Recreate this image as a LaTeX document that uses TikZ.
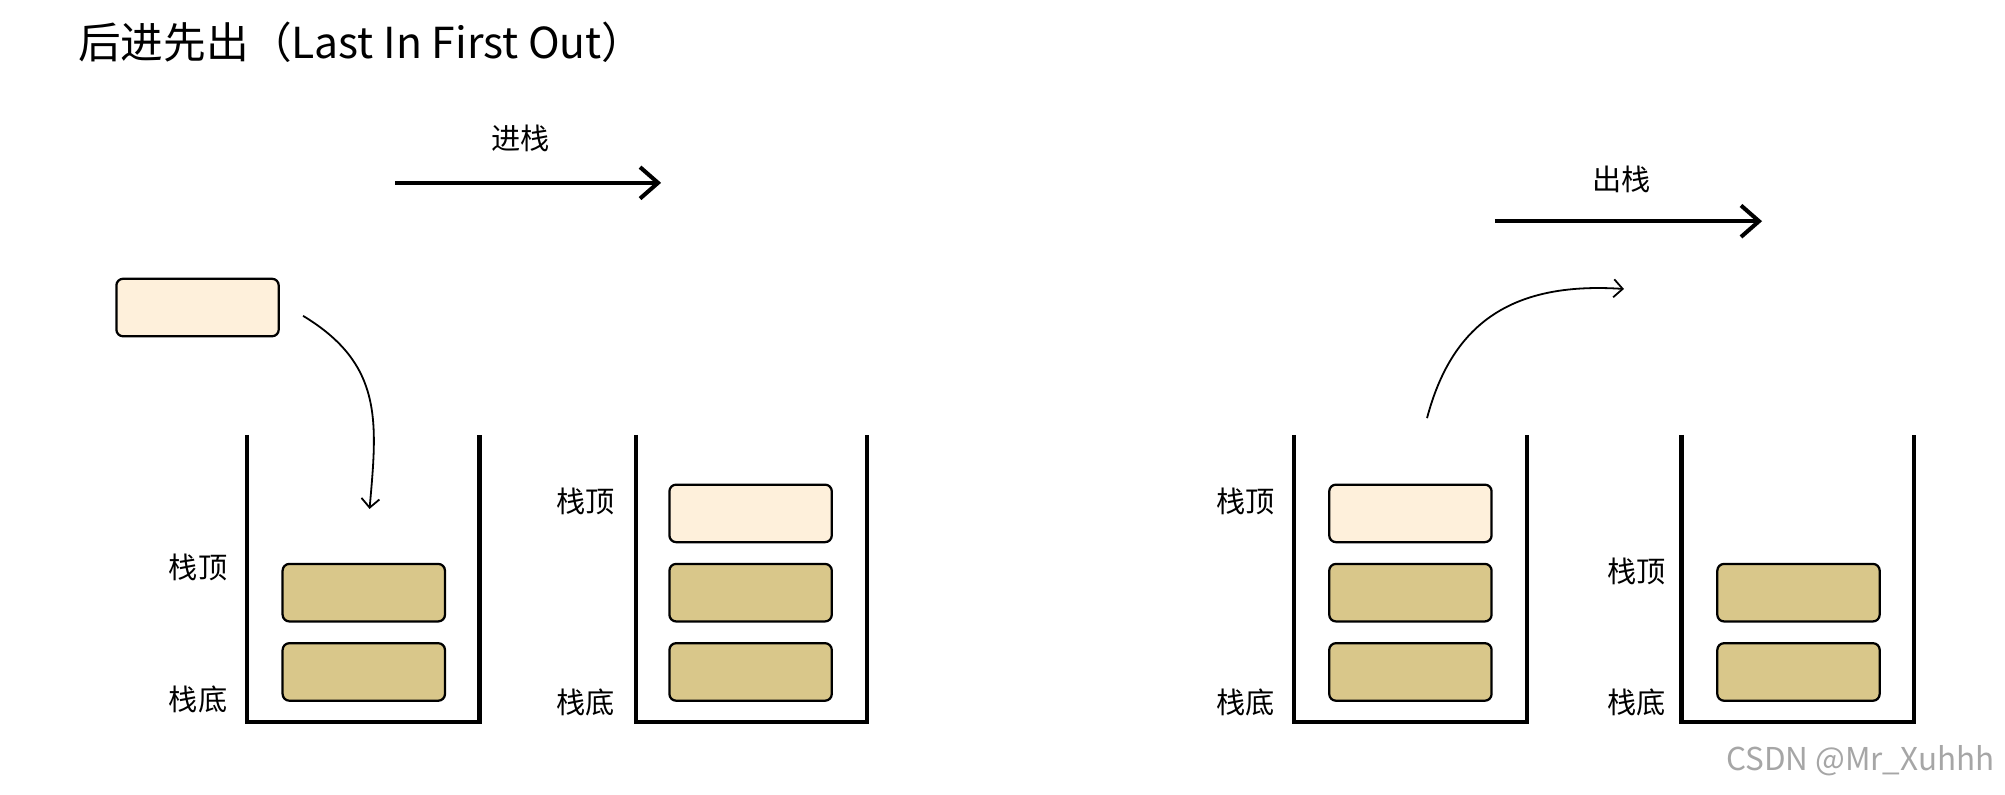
\documentclass[tikz,border=0pt]{standalone}
\usepackage{fontspec}
\setmainfont{Noto Sans CJK SC}
\usetikzlibrary{arrows.meta}
\tikzset{
  lightbox/.style={draw=black,line width=1pt,rounded corners=3pt,fill=yellow!8!orange!12,minimum width=2.54cm,minimum height=0.9cm},
  darkbox/.style={draw=black,line width=1pt,rounded corners=3pt,fill={rgb,255:red,217;green,199;blue,138},minimum width=2.54cm,minimum height=0.9cm},
  lab/.style={font=\fontsize{13pt}{15pt}\selectfont},
  cup/.style={line width=1.8pt},
}
\begin{document}
\begin{tikzpicture}[x=0.02cm,y=-0.02cm]
\useasboundingbox (0,0) rectangle (1568,621);
% title
\node[anchor=west,font=\fontsize{19pt}{22pt}\selectfont] (title) at (55,33) {后进先出（Last In First Out）};

% push arrow
\node[lab] (push) at (407,108) {进栈};
\coordinate (pa) at (309,143); \coordinate (pb) at (517,143);
\draw[line width=1.8pt,-{Straight Barb[length=8pt,width=14pt]}] (pa) -- (pb);
% pop arrow
\node[lab] (pop) at (1268,140) {出栈};
\coordinate (qa) at (1169,173); \coordinate (qb) at (1378,173);
\draw[line width=1.8pt,-{Straight Barb[length=8pt,width=14pt]}] (qa) -- (qb);

% new element
\node[lightbox] (new) at (154.5,240.5) {};
\coordinate (ca) at (237,247); \coordinate (cb) at (289,398);
\draw[line width=0.8pt,-{Straight Barb[length=4pt,width=8pt]}] (ca) .. controls (300,285) and (295,330) .. (cb);

% stack 1
\draw[cup] (193,340) -- (193,565) -- (375,565) -- (375,340);
\node[darkbox] (s1b) at (284.5,525.5) {};
\node[darkbox] (s1a) at (284.5,463.5) {};
\node[lab] (s1t) at (155,444) {栈顶};
\node[lab] (s1d) at (155,547) {栈底};

% stack 2
\draw[cup] (497,340) -- (497,565) -- (678,565) -- (678,340);
\node[darkbox] (s2c) at (587,525.5) {};
\node[darkbox] (s2b) at (587,463.5) {};
\node[lightbox] (s2a) at (587,401.5) {};
\node[lab] (s2t) at (458,392) {栈顶};
\node[lab] (s2d) at (458,549) {栈底};

% stack 3
\draw[cup] (1012,340) -- (1012,565) -- (1194,565) -- (1194,340);
\node[darkbox] (s3c) at (1103,525.5) {};
\node[darkbox] (s3b) at (1103,463.5) {};
\node[lightbox] (s3a) at (1103,401.5) {};
\node[lab] (s3t) at (974,392) {栈顶};
\node[lab] (s3d) at (974,549) {栈底};
\coordinate (da) at (1116,327); \coordinate (db) at (1270,226);
\draw[line width=0.8pt,-{Straight Barb[length=4pt,width=8pt]}] (da) .. controls (1135,255) and (1180,220) .. (db);

% stack 4
\draw[cup] (1315,340) -- (1315,565) -- (1497,565) -- (1497,340);
\node[darkbox] (s4b) at (1406.5,525.5) {};
\node[darkbox] (s4a) at (1406.5,463.5) {};
\node[lab] (s4t) at (1280,447) {栈顶};
\node[lab] (s4d) at (1280,549) {栈底};

% watermark
\node[anchor=east,text=gray!70,font=\fontsize{14pt}{16pt}\selectfont] (wm) at (1566,595) {CSDN @Mr\_Xuhhh};
\end{tikzpicture}
\end{document}
